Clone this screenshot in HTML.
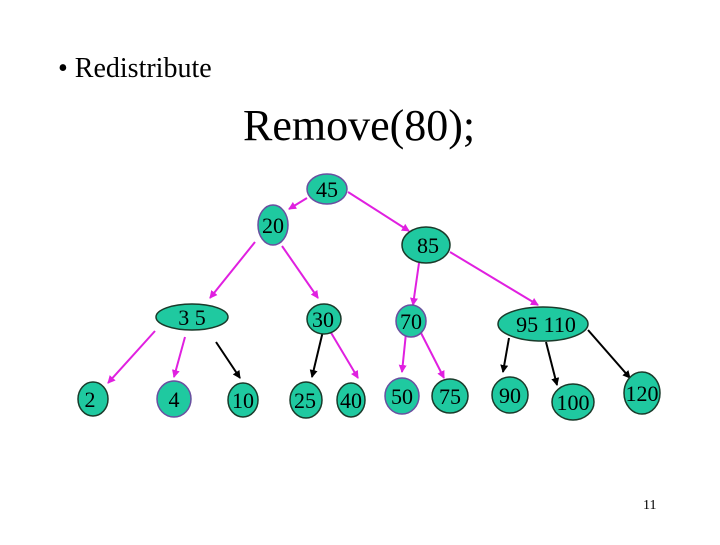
<!DOCTYPE html>
<html><head><meta charset="utf-8"><style>
body{margin:0;background:#fff;}
svg text{font-family:"Liberation Serif",serif;fill:#000;}
</style></head><body>
<svg width="720" height="540" xmlns="http://www.w3.org/2000/svg">
<defs>
<marker id="m" markerWidth="8" markerHeight="8" refX="7" refY="4" orient="auto" markerUnits="userSpaceOnUse"><path d="M0,0 L8,4 L0,8 z" fill="#e020e0"/></marker>
<marker id="k" markerWidth="8" markerHeight="8" refX="7" refY="4" orient="auto" markerUnits="userSpaceOnUse"><path d="M0,0 L8,4 L0,8 z" fill="#000"/></marker>
</defs>
<text x="58" y="77" font-size="28">• Redistribute</text>
<text x="243" y="140" font-size="44">Remove(80);</text>
<text x="643" y="509" font-size="14">11</text>
<g stroke="#e020e0" stroke-width="2" marker-end="url(#m)">
<line x1="307" y1="198" x2="289" y2="209"/>
<line x1="348" y1="192" x2="409" y2="231"/>
<line x1="255" y1="242" x2="210" y2="298"/>
<line x1="282" y1="246" x2="318" y2="298"/>
<line x1="155" y1="331" x2="108" y2="383"/>
<line x1="185" y1="337" x2="174" y2="377"/>
<line x1="330" y1="331" x2="358" y2="378"/>
<line x1="419" y1="263" x2="413" y2="305"/>
<line x1="450" y1="252" x2="538" y2="305"/>
<line x1="406" y1="333" x2="402" y2="372"/>
<line x1="420" y1="331" x2="444" y2="378"/>
</g>
<g stroke="#000" stroke-width="2" marker-end="url(#k)">
<line x1="216" y1="342" x2="240" y2="378"/>
<line x1="323" y1="331" x2="312" y2="377"/>
<line x1="509" y1="338" x2="503" y2="372"/>
<line x1="546" y1="342" x2="557" y2="385"/>
<line x1="588" y1="330" x2="630" y2="378"/>
</g>
<g fill="#1fc9a0" stroke-width="1.5">
<ellipse cx="327" cy="189" rx="20" ry="15" stroke="#6a4fa0"/>
<ellipse cx="273" cy="225" rx="15" ry="20" stroke="#6a4fa0"/>
<ellipse cx="426" cy="245" rx="24" ry="18" stroke="#1a3a2a"/>
<ellipse cx="192" cy="317" rx="36" ry="13" stroke="#1a3a2a"/>
<ellipse cx="324" cy="319" rx="17" ry="15" stroke="#1a3a2a"/>
<ellipse cx="411" cy="321" rx="15" ry="16" stroke="#6a4fa0"/>
<ellipse cx="543" cy="324" rx="45" ry="17" stroke="#1a3a2a"/>
<ellipse cx="93" cy="399" rx="15" ry="17" stroke="#1a3a2a"/>
<ellipse cx="174" cy="399" rx="17" ry="18" stroke="#6a4fa0"/>
<ellipse cx="243" cy="400" rx="15" ry="17" stroke="#1a3a2a"/>
<ellipse cx="306" cy="400" rx="16" ry="18" stroke="#1a3a2a"/>
<ellipse cx="351" cy="400" rx="14" ry="17" stroke="#1a3a2a"/>
<ellipse cx="402" cy="396" rx="17" ry="18" stroke="#6a4fa0"/>
<ellipse cx="450" cy="396" rx="18" ry="17" stroke="#1a3a2a"/>
<ellipse cx="510" cy="395" rx="18" ry="18" stroke="#1a3a2a"/>
<ellipse cx="573" cy="402" rx="21" ry="18" stroke="#1a3a2a"/>
<ellipse cx="642" cy="393" rx="18" ry="21" stroke="#1a3a2a"/>
</g>
<g font-size="22" text-anchor="middle">
<text x="327" y="197">45</text>
<text x="273" y="233">20</text>
<text x="428" y="253">85</text>
<text x="192" y="325">3   5</text>
<text x="323" y="327">30</text>
<text x="411" y="329">70</text>
<text x="546" y="332">95  110</text>
<text x="90" y="407">2</text>
<text x="174" y="407">4</text>
<text x="243" y="408">10</text>
<text x="305" y="408">25</text>
<text x="351" y="408">40</text>
<text x="402" y="404">50</text>
<text x="450" y="404">75</text>
<text x="510" y="403">90</text>
<text x="573" y="410">100</text>
<text x="642" y="401">120</text>
</g>
</svg>
</body></html>
